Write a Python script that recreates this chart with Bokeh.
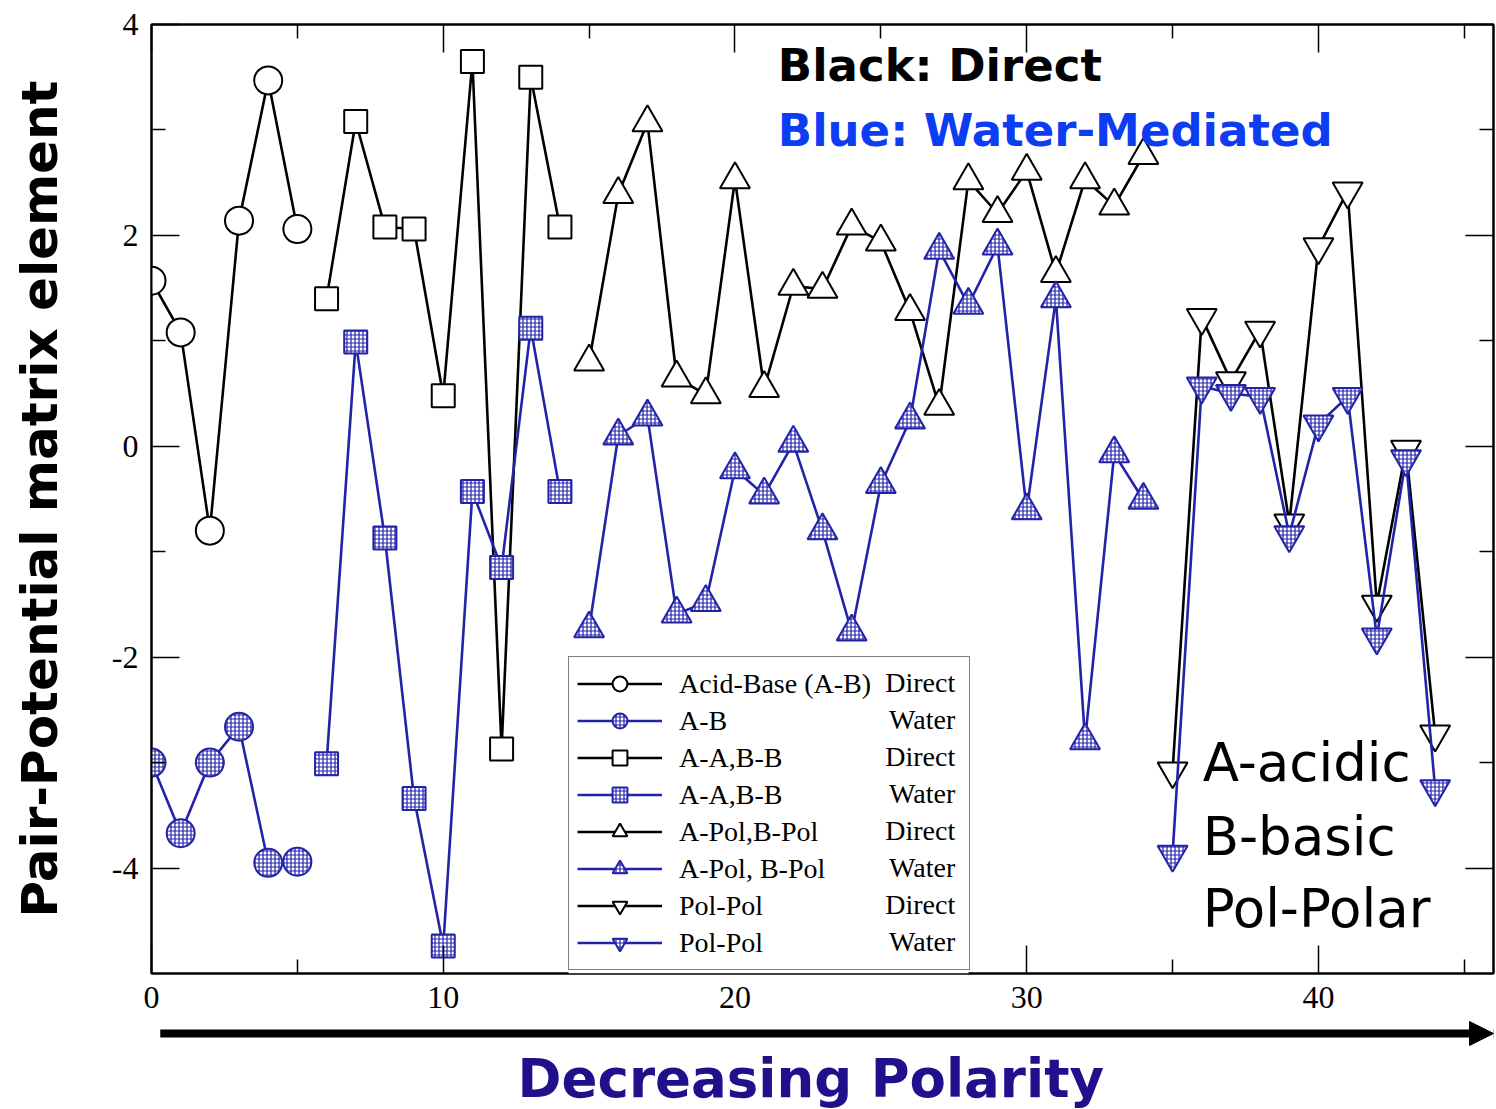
from bokeh.plotting import figure
from bokeh.layouts import column
from bokeh.models import (Range1d, FixedTicker, LinearAxis, Legend, LegendItem,
                          Label, Arrow, NormalHead, BoxAnnotation)
from bokeh.embed import file_html
from bokeh.resources import INLINE

# ---------------- data ----------------
ab_x = [0, 1, 2, 3, 4, 5]
ab_direct = [1.57, 1.08, -0.80, 2.14, 3.47, 2.06]
ab_water = [-3.00, -3.67, -3.00, -2.66, -3.95, -3.94]

aa_x = [6, 7, 8, 9, 10, 11, 12, 13, 14]
aa_direct = [1.40, 3.08, 2.08, 2.06, 0.48, 3.65, -2.87, 3.50, 2.08]
aa_water = [-3.01, 0.99, -0.87, -3.34, -4.74, -0.43, -1.15, 1.12, -0.43]

apol_x = list(range(15, 35))
apol_direct = [0.80, 2.39, 3.07, 0.65, 0.49, 2.53, 0.55, 1.52, 1.49, 2.09,
               1.94, 1.28, 0.38, 2.52, 2.21, 2.61, 1.64, 2.53, 2.28, 2.76]
apol_water = [-1.73, 0.10, 0.28, -1.59, -1.48, -0.22, -0.46, 0.03, -0.80, -1.76,
              -0.36, 0.25, 1.86, 1.34, 1.90, -0.61, 1.40, -2.79, -0.07, -0.51]

polpol_x = list(range(35, 45))
polpol_direct = [-3.08, 1.22, 0.62, 1.10, -0.73, 1.89, 2.42, -1.50, -0.03, -2.73]
polpol_water = [-3.87, 0.57, 0.50, 0.47, -0.84, 0.21, 0.47, -1.81, -0.12, -3.25]

x_ticks = [0, 10, 20, 30, 40]
x_minor = [5, 15, 25, 35, 45]
y_ticks = [-4, -2, 0, 2, 4]
y_minor = [-3, -1, 1, 3]
y_tick_labels = {-4: "-4", -2: "-2", 0: "0", 2: "2", 4: "4"}

legend_labels = ["Acid-Base (A-B)", "A-B", "A-A,B-B", "A-A,B-B",
                 "A-Pol,B-Pol", "A-Pol, B-Pol", "Pol-Pol", "Pol-Pol"]
legend_kind = ["Direct", "Water", "Direct", "Water", "Direct", "Water", "Direct", "Water"]

BLUE = "#2323a8"
SERIF = "Liberation Serif"
SANS = "DejaVu Sans"

X0, X1, Y0, Y1 = 0, 46, -5, 4
p = figure(width=1496, height=1020, output_backend="svg", toolbar_location=None,
           x_range=Range1d(X0, X1), y_range=Range1d(Y0, Y1),
           min_border_left=151, min_border_right=3, min_border_top=24,
           min_border_bottom=47, background_fill_color="white",
           border_fill_color="white")
p.grid.visible = False
p.outline_line_color = "black"
p.outline_line_width = 2

# axes
p.xaxis.ticker = FixedTicker(ticks=x_ticks, minor_ticks=x_minor)
p.yaxis.ticker = FixedTicker(ticks=y_ticks, minor_ticks=y_minor)
p.yaxis.major_label_overrides = y_tick_labels
for ax in (p.xaxis[0], p.yaxis[0]):
    ax.major_tick_in = 28
    ax.major_tick_out = 0
    ax.minor_tick_in = 14
    ax.minor_tick_out = 0
    ax.major_tick_line_width = 1.5
    ax.minor_tick_line_width = 1.5
    ax.axis_line_width = 2
    ax.major_label_text_font = SERIF
    ax.major_label_text_font_size = "32px"
    ax.major_label_text_color = "black"
    ax.major_label_standoff = 13

p.yaxis.axis_label = "Pair-Potential matrix element"
p.yaxis.axis_label_text_font = SANS
p.yaxis.axis_label_text_font_style = "bold"
p.yaxis.axis_label_text_font_size = "50px"
p.yaxis.axis_label_text_color = "black"
p.yaxis.axis_label_standoff = 40

for loc in ("right", "above"):
    ax = LinearAxis(ticker=FixedTicker(ticks=(y_ticks if loc == "right" else x_ticks),
                                       minor_ticks=(y_minor if loc == "right" else x_minor)))
    ax.major_tick_in = 28
    ax.major_tick_out = 0
    ax.minor_tick_in = 14
    ax.minor_tick_out = 0
    ax.major_tick_line_width = 1.5
    ax.minor_tick_line_width = 1.5
    ax.major_label_text_color = None
    ax.major_label_text_font_size = "1px"
    ax.major_label_standoff = 0
    ax.axis_line_width = 2
    p.add_layout(ax, loc)

# ---------------- series ----------------
def series(xs, ys, marker, size, water):
    col = BLUE if water else "black"
    ln = p.line(xs, ys, line_color=col, line_width=2.6)
    kw = dict(marker=marker, size=size, line_color=col, line_width=2,
              fill_color="white")
    if water:
        kw.update(hatch_pattern="cross", hatch_color=col, hatch_scale=4,
                  hatch_weight=1.2)
    sc = p.scatter(xs, ys, **kw)
    return [ln, sc]

r1 = series(ab_x, ab_direct, "circle", 28, False)
r2 = series(ab_x, ab_water, "circle", 28, True)
r3 = series(aa_x, aa_direct, "square", 23, False)
r4 = series(aa_x, aa_water, "square", 23, True)
r5 = series(apol_x, apol_direct, "triangle", 30, False)
r6 = series(apol_x, apol_water, "triangle", 30, True)
r7 = series(polpol_x, polpol_direct, "inverted_triangle", 30, False)
r8 = series(polpol_x, polpol_water, "inverted_triangle", 30, True)

# legend: white backing box, second text column, then a transparent legend on top
px_per_x = 1342.0 / (X1 - X0)
px_per_y = 949.0 / (Y1 - Y0)
p.add_layout(BoxAnnotation(left=(568 - 151) / px_per_x, right=(968 - 151) / px_per_x,
                           bottom=Y0, top=Y1 - (655 - 24) / px_per_y,
                           fill_color="white", fill_alpha=1.0, line_color=None))
for k, kind in enumerate(legend_kind):
    yk = Y1 - (682 + 37.0 * k - 24) / px_per_y
    p.add_layout(Label(x=27.55, y=yk, text=kind, text_align="right",
                       text_baseline="middle", text_font=SERIF,
                       text_font_size="28px", text_color="black"))

items = [LegendItem(label=lab, renderers=r) for lab, r in
         zip(legend_labels, [r1, r2, r3, r4, r5, r6, r7, r8])]
legend = Legend(items=items, location=(417, 3), orientation="vertical",
                label_text_font=SERIF, label_text_font_size="28px",
                label_text_color="black", glyph_width=85, glyph_height=37,
                label_height=37, label_width=282, spacing=0, padding=8,
                margin=0, label_standoff=17, border_line_color="black",
                border_line_width=1.5, background_fill_alpha=0.0)
p.add_layout(legend, "center")

# annotations
p.add_layout(Label(x=21.47, y=3.61, text="Black: Direct", text_font=SANS,
                   text_font_style="bold", text_font_size="45px",
                   text_color="black", text_baseline="middle"))
p.add_layout(Label(x=21.47, y=2.99, text="Blue: Water-Mediated", text_font=SANS,
                   text_font_style="bold", text_font_size="45px",
                   text_color="#0d3df2", text_baseline="middle"))
for txt, yy in (("A-acidic", -3.0), ("B-basic", -3.70), ("Pol-Polar", -4.38)):
    p.add_layout(Label(x=36.03, y=yy, text=txt, text_font=SANS,
                       text_font_size="53px", text_color="black",
                       text_baseline="middle"))

# ---------------- strip below: arrow + axis title (frames align with p) ----------------
p2 = figure(width=1496, height=89, output_backend="svg", toolbar_location=None,
            x_range=Range1d(X0, X1), y_range=Range1d(0, 89),
            x_axis_type=None, y_axis_type=None, min_border_left=151,
            min_border_right=3, min_border_top=0, min_border_bottom=0,
            background_fill_color="white", border_fill_color="white")
p2.grid.visible = False
p2.outline_line_color = None
p2.add_layout(Arrow(end=NormalHead(size=24, fill_color="black", line_color="black"),
                    x_start=0.3, y_start=76, x_end=X1, y_end=76,
                    line_width=8, line_color="black"))
p2.add_layout(Label(x=22.6, y=31, text="Decreasing Polarity", text_font=SANS,
                    text_font_style="bold", text_font_size="53px",
                    text_color="#20108c", text_align="center",
                    text_baseline="middle"))

layout = column(p, p2, spacing=0)
open("out.html", "w").write(file_html(layout, INLINE))
